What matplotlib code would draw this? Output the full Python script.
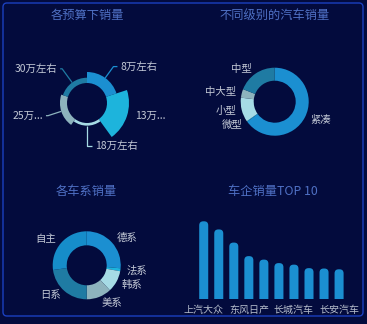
import matplotlib
matplotlib.use('Agg')
import matplotlib.pyplot as plt
from matplotlib.patches import Wedge, FancyBboxPatch
import numpy as np

plt.rcParams['font.family'] = ['Noto Sans CJK SC', 'DejaVu Sans']

# ---------------- data ----------------
budget_labels = ['8万左右', '13万左右', '18万左右', '25万左右', '30万左右']
budget_display = ['8万左右', '13万...', '18万左右', '25万...', '30万左右']
budget_values = [50, 100, 12, 32, 24]

level_labels = ['紧凑', '微型', '小型', '中大型', '中型']
level_values = [65.0, 0.3, 11.6, 4.1, 19.0]

origin_labels = ['德系', '法系', '韩系', '美系', '日系', '自主']
origin_values = [26.4, 1.4, 10.3, 11.9, 22.8, 27.2]

brands = ['上汽大众', '一汽大众', '上汽通用', '东风日产', '吉利汽车',
          '上汽通用五菱', '长城汽车', '长安福特', '一汽丰田', '长安汽车']
brand_sales = [200, 179, 145, 110, 101, 92, 88, 79, 78, 76]

titles = ['各预算下销量', '不同级别的汽车销量', '各车系销量', '车企销量TOP 10']

# ---------------- style ----------------
W, H, DPI = 367, 324, 100
BG = '#030b3d'
FRAME = '#1b3fbf'
TITLE_C = '#4f70c4'
LABEL_C = '#c3c9d6'
palette = ['#1b8fd1', '#1db4dc', '#a6dbe5', '#8db3bd', '#1f7ba3', '#168dca']

fig = plt.figure(figsize=(W / DPI, H / DPI), dpi=DPI, facecolor=BG)

# overlay axes in pixel coordinates (y downward)
ov = fig.add_axes([0, 0, 1, 1])
ov.set_xlim(0, W)
ov.set_ylim(H, 0)
ov.axis('off')
ov.set_facecolor(BG)

# frame
ov.add_patch(FancyBboxPatch((3, 3), 360, 313, boxstyle='round,pad=0,rounding_size=4',
                            fill=False, ec=FRAME, lw=1.0))

# titles
title_pos = [(87, 15), (275, 15), (86, 191), (273, 191)]
for t, (x, y) in zip(titles, title_pos):
    ov.text(x, y, t, color=TITLE_C, fontsize=8.8, ha='center', va='center')

LFS = 7.5


def pt(cx, cy, r, a):
    """a: angle clockwise from top in degrees"""
    rad = np.deg2rad(a)
    return cx + r * np.sin(rad), cy - r * np.cos(rad)


# ---------------- panel 1: rose chart ----------------
c1 = (87, 103)
r0, R1 = 20, 42
vmax = max(budget_values)
n = len(budget_values)
step = 360 / n
len1 = [14, 0, 20, 14, 17]
len2 = [4, 5, 5, 2, 2]
for i, v in enumerate(budget_values):
    a1, a2 = i * step, (i + 1) * step
    r = r0 + v / vmax * (R1 - r0)
    col = palette[i % len(palette)]
    ov.add_patch(Wedge(c1, r, -90 + a1, -90 + a2, width=r - r0, fc=col, ec='none'))
    mid = (a1 + a2) / 2
    sx, sy = pt(c1[0], c1[1], r, mid)
    ex, ey = pt(c1[0], c1[1], r + len1[i], mid)
    right = np.sin(np.deg2rad(mid)) >= 0
    hx = ex + (len2[i] if right else -len2[i])
    if len1[i] > 0:
        ov.plot([sx, ex, hx], [sy, ey, ey], color=col, lw=0.9, solid_capstyle='butt')
    ov.text(hx + (3 if right else -3), ey, budget_display[i], color=LABEL_C,
            fontsize=LFS, ha='left' if right else 'right', va='center')


# ---------------- donut helper ----------------
def donut(center, values, labels, rin, rout, lab_r):
    wedges, _ = ov.pie(values, colors=palette[:len(values)], startangle=-90,
                       counterclock=True, radius=rout, center=center, frame=True,
                       wedgeprops=dict(width=rout - rin, edgecolor='none', linewidth=0))
    for w, lab in zip(wedges, labels):
        mid_data = (w.theta1 + w.theta2) / 2
        a = mid_data + 90  # clockwise from top (visual)
        x, y = pt(center[0], center[1], lab_r, a)
        right = np.sin(np.deg2rad(a)) >= 0
        ov.text(x, y, lab, color=LABEL_C, fontsize=LFS,
                ha='left' if right else 'right', va='center')


donut((274.7, 101.7), level_values, level_labels, 21, 34, 40)
donut((86.7, 265.3), origin_values, origin_labels, 20, 34, 40)

ov.set_xlim(0, W)
ov.set_ylim(H, 0)
ov.set_aspect('auto')

# ---------------- panel 4: bar chart ----------------
left_px, width_px = 196.2, 150.4
bottom_px, height_px = 298.7, 85.14
bx = fig.add_axes([left_px / W, 1 - bottom_px / H, width_px / W, height_px / H])
bx.set_facecolor('none')
bx.set_xlim(-0.5, len(brands) - 0.5)
ymax = 220
bx.set_ylim(0, ymax)
for s in bx.spines.values():
    s.set_visible(False)
bx.set_yticks([])
bars = bx.bar(range(len(brands)), brand_sales, width=0.6, color=palette[0])
aspect = (ymax / height_px) / (len(brands) / width_px)
rs = 0.27
for rect in bars:
    rect.set_visible(False)
    x0, w, h = rect.get_x(), rect.get_width(), rect.get_height()
    bx.add_patch(FancyBboxPatch((x0, -rs * aspect), w, h + rs * aspect,
                                boxstyle=f'round,pad=0,rounding_size={rs}',
                                mutation_aspect=aspect, fc=palette[0], ec='none'))
bx.set_xticks(range(len(brands)))
bx.set_xticklabels(brands, fontsize=7.2, color='#b4bccb')
for i, lab in enumerate(bx.get_xticklabels()):
    lab.set_visible(i % 3 == 0)
bx.tick_params(axis='x', length=0, pad=4.2)

fig.savefig('out.png', dpi=DPI, facecolor=BG)
